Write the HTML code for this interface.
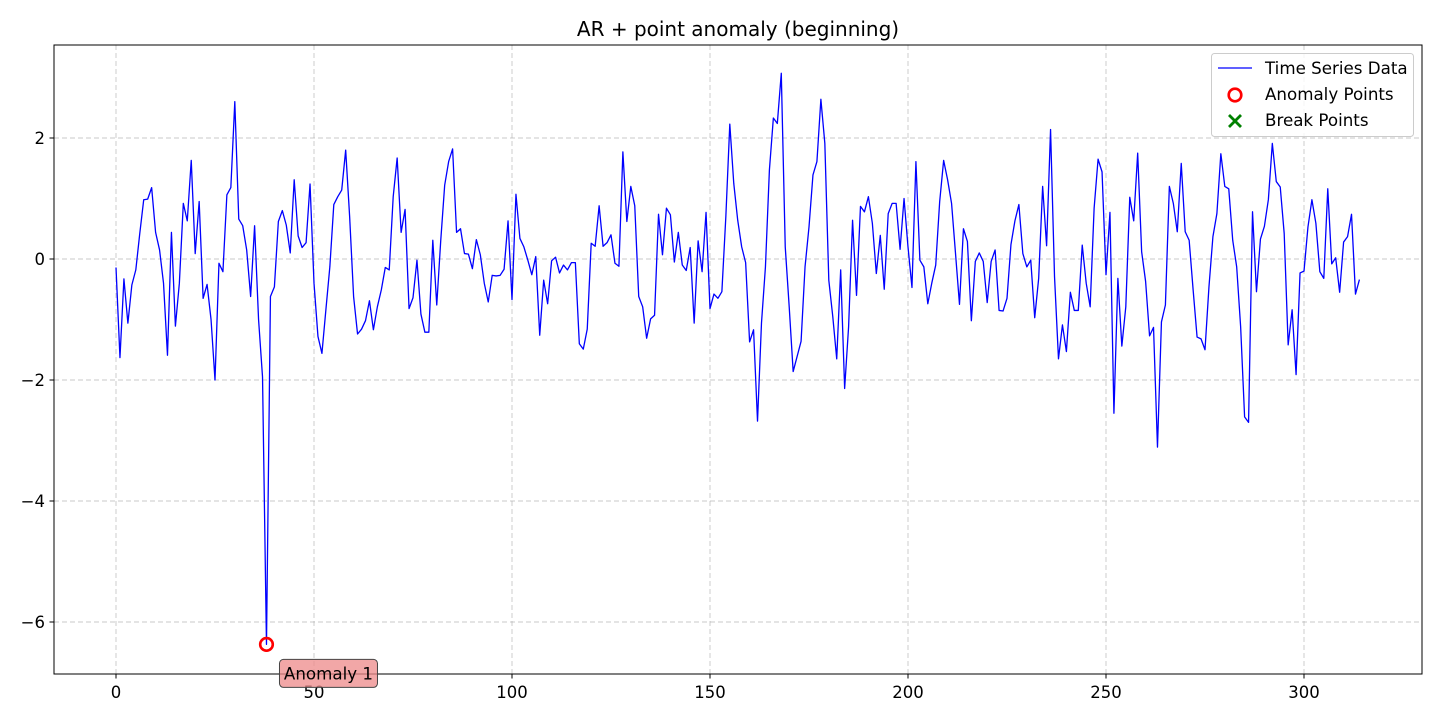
<!DOCTYPE html>
<html><head><meta charset="utf-8"><title>AR + point anomaly (beginning)</title>
<style>
html,body{margin:0;padding:0;background:#fff;}
svg{display:block;font-family:"DejaVu Sans","Liberation Sans",sans-serif;}
</style></head>
<body>
<svg id="chart" width="1440" height="720" xmlns="http://www.w3.org/2000/svg">
<rect x="0" y="0" width="1440" height="720" fill="#fff"/>
<text x="738" y="36" text-anchor="middle" font-size="20" fill="#000">AR + point anomaly (beginning)</text>
<g id="grid"></g>
<g id="series"></g>
<rect x="54" y="45" width="1368" height="629" fill="none" stroke="#000" stroke-width="1"/>
<g id="ticks"></g>
<g id="annot"></g>
<g>
<rect x="1211.5" y="53.5" width="202" height="83" rx="3" fill="#fff" fill-opacity="0.8" stroke="#ccc"/>
<line x1="1218" y1="68" x2="1252" y2="68" stroke="#0000ff" stroke-width="1.3"/>
<text x="1265" y="74" font-size="16.7">Time Series Data</text>
<circle cx="1235" cy="95" r="6.3" fill="none" stroke="#ff0000" stroke-width="2.6"/>
<text x="1265" y="100" font-size="16.7">Anomaly Points</text>
<path d="M1229 115 L1241 127 M1241 115 L1229 127" stroke="#008000" stroke-width="2.8"/>
<text x="1265" y="126" font-size="16.7">Break Points</text>
</g>
</svg>
<script>
const values = [-0.14,-1.63,-0.33,-1.06,-0.43,-0.18,0.42,0.98,0.99,1.18,0.44,0.15,-0.40,-1.59,0.44,-1.11,-0.40,0.92,0.63,1.63,0.09,0.95,-0.65,-0.42,-1.0,-2.0,-0.07,-0.21,1.06,1.18,2.6,0.66,0.55,0.15,-0.62,0.55,-1.0,-1.95,-6.37,-0.62,
-0.46,0.62,0.80,0.56,0.10,1.31,0.38,0.19,0.27,1.24,-0.40,-1.28,-1.56,-0.84,-0.13,0.90,1.03,1.14,1.80,0.70,-0.62,-1.24,-1.16,-1.02,-0.69,-1.17,-0.79,-0.51,-0.14,-0.18,
1.03,1.67,0.44,0.82,-0.82,-0.64,-0.02,-0.91,-1.21,-1.21,0.31,-0.76,0.30,1.22,1.61,1.82,0.44,0.50,0.09,0.08,-0.16,0.32,0.07,-0.40,-0.71,-0.27,-0.28,-0.27,-0.17,0.63,
-0.67,1.07,0.34,0.20,-0.02,-0.26,0.04,-1.26,-0.35,-0.74,-0.03,0.03,-0.23,-0.10,-0.18,-0.06,-0.06,-1.40,-1.49,-1.16,0.26,0.21,0.88,0.21,0.27,0.40,-0.07,-0.12,1.77,0.62,
1.20,0.88,-0.62,-0.79,-1.31,-0.99,-0.93,0.74,0.07,0.84,0.73,-0.05,0.44,-0.10,-0.19,0.19,-1.06,0.30,-0.21,0.77,-0.82,-0.58,-0.65,-0.54,0.70,2.23,1.25,0.64,0.20,-0.06,
-1.37,-1.17,-2.68,-1.06,-0.13,1.47,2.33,2.24,3.07,0.20,-0.79,-1.86,-1.61,-1.36,-0.13,0.53,1.39,1.61,2.64,1.91,-0.35,-0.95,-1.65,-0.18,-2.14,-1.12,0.64,-0.60,0.87,0.78,
1.03,0.59,-0.24,0.39,-0.50,0.75,0.92,0.92,0.16,1.00,0.20,-0.47,1.61,-0.02,-0.13,-0.74,-0.40,-0.10,0.95,1.63,1.31,0.92,0.09,-0.75,0.50,0.29,-1.02,-0.04,0.10,-0.04,
-0.72,-0.04,0.15,-0.85,-0.86,-0.65,0.24,0.63,0.90,0.09,-0.13,-0.02,-0.97,-0.32,1.20,0.22,2.14,-0.29,-1.65,-1.09,-1.53,-0.55,-0.85,-0.85,0.23,-0.40,-0.79,0.84,1.65,1.44,
-0.26,0.77,-2.55,-0.32,-1.44,-0.79,1.02,0.63,1.75,0.12,-0.37,-1.27,-1.13,-3.11,-1.04,-0.76,1.20,0.92,0.45,1.58,0.45,0.31,-0.51,-1.29,-1.32,-1.50,-0.46,0.37,0.75,1.74,
1.20,1.16,0.31,-0.13,-1.12,-2.61,-2.70,0.78,-0.54,0.33,0.54,0.98,1.91,1.28,1.19,0.42,-1.42,-0.84,-1.91,-0.23,-0.20,0.53,0.98,0.59,-0.21,-0.32,1.16,-0.08,0.02,-0.55,
0.28,0.37,0.74,-0.58,-0.34];
const anomalyIndices = [38];
const anomalyLabels = ["Anomaly 1"];
const xTicks = [0,50,100,150,200,250,300];
const yTicks = [-6,-4,-2,0,2];

const NS = "http://www.w3.org/2000/svg";
function xs(v){ return 116 + v * (1304 - 116) / 300; }
function ys(v){ return 259 - v * 60.5; }
function mk(tag, attrs, parent){
  const e = document.createElementNS(NS, tag);
  for (const k in attrs) e.setAttribute(k, attrs[k]);
  parent.appendChild(e);
  return e;
}
const grid = document.getElementById('grid');
const ticks = document.getElementById('ticks');
xTicks.forEach(t => {
  const x = xs(t);
  const g = mk('line', {x1:x, y1:45, x2:x, y2:674, stroke:'#b0b0b0', 'stroke-opacity':0.7, 'stroke-dasharray':'5,3', 'stroke-width':0.9}, grid);
  
  
  const tk = mk('line', {x1:x, y1:674, x2:x, y2:678.5, stroke:'#000', 'stroke-width':1}, ticks);
  
  
  const tx = mk('text', {x:x, y:698, 'text-anchor':'middle', 'font-size':16.5}, ticks);
  tx.textContent = String(t);
  
  
});
yTicks.forEach(t => {
  const y = ys(t);
  const g = mk('line', {x1:54, y1:y, x2:1422, y2:y, stroke:'#b0b0b0', 'stroke-opacity':0.7, 'stroke-dasharray':'5,3', 'stroke-width':0.9}, grid);
  
  
  const tk = mk('line', {x1:49.5, y1:y, x2:54, y2:y, stroke:'#000', 'stroke-width':1}, ticks);
  
  
  const tx = mk('text', {x:45, y:y + 6, 'text-anchor':'end', 'font-size':16.5}, ticks);
  tx.textContent = (t < 0 ? '\u2212' + Math.abs(t) : String(t));
  
  
});
const series = document.getElementById('series');
const pts = values.map((v, i) => xs(i).toFixed(2) + ',' + ys(v).toFixed(2)).join(' ');
const line = mk('polyline', {points:pts, fill:'none', stroke:'#0000ff', 'stroke-width':1.3, 'stroke-linejoin':'round'}, series);


const annot = document.getElementById('annot');
anomalyIndices.forEach((idx, k) => {
  const cx = xs(idx), cy = ys(values[idx]);
  const c = mk('circle', {cx:cx, cy:cy, r:6.3, fill:'none', stroke:'#ff0000', 'stroke-width':2.6}, annot);
  
  
  const bx = cx + 13, by = cy + 15;
  const r = mk('rect', {x:bx, y:by, width:98, height:28, rx:4, fill:'#ee8a8a', 'fill-opacity':0.75, stroke:'#444', 'stroke-width':1}, annot);
  
  
  const t = mk('text', {x:bx + 49, y:by + 20, 'text-anchor':'middle', 'font-size':16.7}, annot);
  t.textContent = anomalyLabels[k];
  
  
});
</script>
</body></html>
